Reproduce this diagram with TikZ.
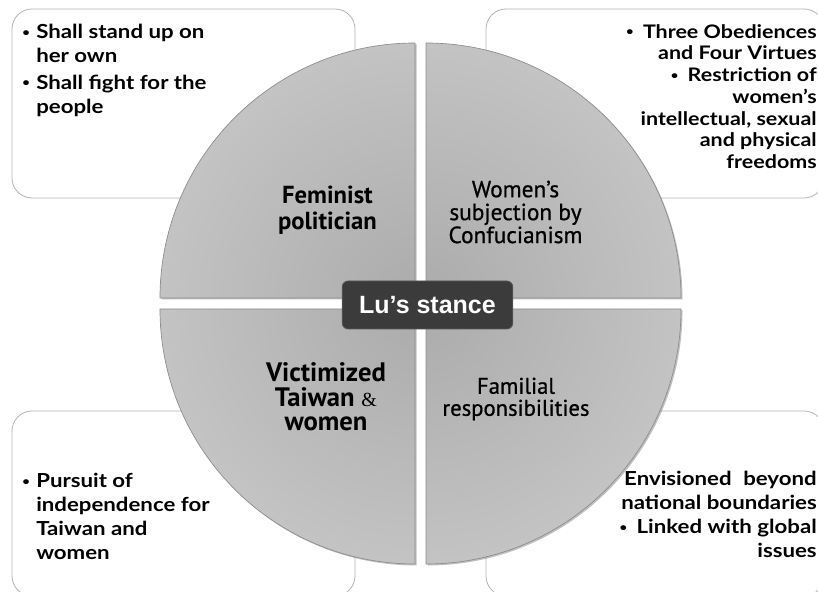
\documentclass[tikz,border=0pt]{standalone}
\usepackage{fontspec}
\setmainfont{Lato}
\newfontfamily\pointfont{Lato}[FakeStretch=1.15]
\newfontfamily\labelfont{PT Sans}
\newfontfamily\midfont{PT Sans}[FakeBold=0.8]
\newfontfamily\hubfont{Liberation Sans}
\newfontfamily\ampfont{Liberation Serif}
\usetikzlibrary{positioning,fit,calc}

\definecolor{hubgray}{HTML}{3B3B3B}
\definecolor{boxline}{HTML}{B4B4B4}
\definecolor{rimgray}{HTML}{8C8C8C}
\definecolor{qin}{HTML}{ABABAB}
\definecolor{qout}{HTML}{DADADA}
\newcommand{\bdot}{\raisebox{1.9pt}{\fontsize{8.5}{8.5}\selectfont\textbullet}}
\newcommand{\bul}{\makebox[12pt][l]{\hspace{1.5pt}\bdot}}
\newcommand{\ind}{\hspace*{12pt}}

\begin{document}
\begin{tikzpicture}[
  x=0.75pt, y=0.75pt,
  infobox/.style={draw=boxline, line width=0.6pt, fill=white,
                  rounded corners=15pt, inner sep=0pt},
  bullets/.style={font=\pointfont\bfseries\fontsize{14.5}{18}\selectfont, inner sep=0pt},
  qlabel/.style={font=\labelfont\bfseries, align=center, inner sep=0pt},
  qrim/.style={draw=rimgray, line width=0.5pt},
  hub/.style={fill=hubgray, draw=black!65, line width=0.6pt, rounded corners=4.5pt,
              minimum width=128pt, minimum height=36pt, inner sep=0pt,
              text=white, font=\hubfont\bfseries\fontsize{18.75}{22}\selectfont}
]
\clip (0,0) rectangle (818,592);
\coordinate (ctr) at (420.5,288.5);
% ---------------- boxes behind ----------------
\node[infobox, fit={(12,394) (355,583)}] (tlbox) {};
\node[infobox, fit={(486,394) (824,583)}] (trbox) {};
\node[infobox, fit={(12,-4) (355,181)}] (blbox) {};
\node[infobox, fit={(486,-4) (824,181)}] (brbox) {};
% ---------------- quadrants ----------------
\foreach \qx/\qy/\qa in {-1/1/90, 1/1/0, -1/-1/180, 1/-1/270}{
  \fill[black!50, opacity=.5]
    ($(ctr)+(\qx*5.5+1.5,\qy*5.5-1.5)$) -- ++(\qa:255)
    arc[start angle=\qa, end angle=\qa+90, radius=255] -- cycle;
  \begin{scope}
    \clip ($(ctr)+(\qx*5.5,\qy*5.5)$) -- ++(\qa:255)
      arc[start angle=\qa, end angle=\qa+90, radius=255] -- cycle;
    \shade[inner color=qin, outer color=qout] (ctr) circle (510);
  \end{scope}
  \draw[qrim] ($(ctr)+(\qx*5.5,\qy*5.5)$) -- ++(\qa:255)
    arc[start angle=\qa, end angle=\qa+90, radius=255] -- cycle;
}
% ---------------- box texts ----------------
\node[bullets, anchor=north west, align=left] (tltext) at (20,568)
  {\bul Shall stand up on\\ \ind her own\\[2pt]
   \bul Shall fight for the\\ \ind people};
\node[bullets, anchor=north east, align=right,
      font=\pointfont\bfseries\fontsize{14}{16.3}\selectfont] (trtext) at (817,568)
  {\bdot\hspace{7pt}Three Obediences\\ and Four Virtues\\
   \bdot\hspace{7pt}Restriction of\\ women’s\\ intellectual, sexual\\
   and physical\\ freedoms};
\node[bullets, anchor=north west, align=left] (bltext) at (20,119)
  {\bul Pursuit of\\ \ind independence for\\ \ind Taiwan and\\ \ind women};
\node[bullets, anchor=north east, align=right] (brtext) at (817,121)
  {Envisioned\hspace{0.6em}beyond\\ national boundaries\\
   \bdot\hspace{7pt}Linked with global\\ issues};
% ---------------- quadrant labels ----------------
\node[qlabel, font=\labelfont\bfseries\fontsize{18.5}{19.5}\selectfont] (fem) at (327.5,382)
  {Feminist\\politician};
\node[qlabel, font=\midfont\fontsize{17.5}{17.2}\selectfont] (conf) at (515.5,380)
  {Women’s\\subjection by\\Confucianism};
\node[qlabel, font=\labelfont\bfseries\fontsize{20}{18.4}\selectfont] (vict) at (326,195)
  {Victimized\\Taiwan {\ampfont\mdseries\fontsize{15}{15}\selectfont\&}\\women};
\node[qlabel, font=\midfont\fontsize{17}{16.5}\selectfont] (fam) at (516,193)
  {Familial\\responsibilities};
% ---------------- hub ----------------
\node[hub] (stance) at (427.5,287) {Lu’s stance};
\end{tikzpicture}
\end{document}
